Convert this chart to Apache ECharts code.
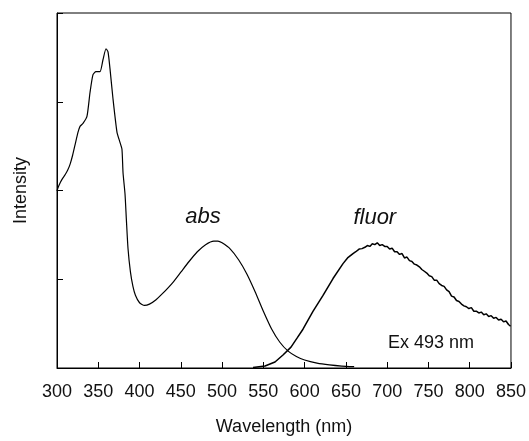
<!DOCTYPE html>
<html><head><meta charset="utf-8">
<script src="https://cdn.jsdelivr.net/npm/echarts@6/dist/echarts.min.js"></script>
<style>html,body{margin:0;padding:0;background:#fff}#c{width:529px;height:441px}</style>
</head><body><div id="c"></div>
<script>
var xTicks = [300,350,400,450,500,550,600,650,700,750,800,850];
var absWl = [300,301.2,304,307,310,313,316,319,322,325.4,327.9,331.5,336.3,340,343.6,347.2,352.1,355.7,359.4,361.8,364.2,367.8,372.7,376.3,378.7,380,382.4,384,386,389,392,395,400,406,412,420,428,440,450,460,470,480,490,495,500,510,520,530,540,550,560,570,580,590,600,615,630,645,660];
var absVal = [1.994,2.03,2.09,2.14,2.18,2.23,2.30,2.40,2.52,2.655,2.723,2.756,2.835,3.104,3.305,3.339,3.339,3.473,3.597,3.563,3.373,3.036,2.655,2.543,2.465,2.2,1.96,1.68,1.35,1.08,0.92,0.82,0.735,0.705,0.72,0.77,0.84,0.96,1.08,1.20,1.31,1.39,1.43,1.43,1.41,1.34,1.22,1.06,0.86,0.64,0.44,0.29,0.19,0.13,0.09,0.055,0.035,0.022,0.015];
var fluWl = [537.5,552,564.1,573.8,583.5,590.8,598,610.1,622.3,634.4,646.5,652,658.6,662,666,669.5,673,676,679,682,685,688,691,694,697,700,703,706,709,712,715,718,721,724,727,730,733,736,739,742,745,748,751,754,757,760,763,766,769,772,775,778,781,784,787,790,793,796,799,802,805,808,811,814,817,820,823,826,829,832,835,838,841,844,847,849.5];
var fluVal = [0.006,0.022,0.067,0.146,0.235,0.336,0.437,0.639,0.818,1.008,1.176,1.24,1.289,1.31,1.34,1.345,1.36,1.38,1.37,1.40,1.39,1.41,1.38,1.39,1.37,1.37,1.34,1.35,1.31,1.31,1.28,1.29,1.24,1.25,1.21,1.20,1.17,1.16,1.14,1.11,1.09,1.07,1.04,1.03,0.99,0.99,0.95,0.93,0.92,0.88,0.86,0.81,0.80,0.76,0.75,0.72,0.70,0.69,0.67,0.68,0.64,0.64,0.62,0.63,0.60,0.61,0.58,0.59,0.56,0.57,0.54,0.55,0.52,0.53,0.49,0.47];
var labels = [{t:'abs', x:477, y:1.70, italic:true, size:22},{t:'fluor', x:685, y:1.69, italic:true, size:22},{t:'Ex 493 nm', x:753, y:0.28, italic:false, size:18}];

function pairs(a,b){return a.map(function(v,i){return [v,b[i]];});}
var chart = echarts.init(document.getElementById('c'));
var font = '"Liberation Sans", Arial, sans-serif';
chart.setOption({
  animation:false,
  grid:{left:57,top:13,right:18,bottom:71,show:true,borderColor:'#000',borderWidth:1},
  xAxis:{type:'value',min:300,max:850,interval:50,
    axisLine:{lineStyle:{color:'#000',width:1}},
    axisTick:{inside:true,length:6,lineStyle:{color:'#000'}},
    axisLabel:{fontSize:18,color:'#111',fontFamily:font,margin:15,customValues:xTicks},
    splitLine:{show:false},
    name:'Wavelength (nm)',nameLocation:'middle',nameGap:50,
    nameTextStyle:{fontSize:18,color:'#111',fontFamily:font}},
  yAxis:{type:'value',min:0,max:4,interval:1,
    axisLine:{show:true,lineStyle:{color:'#000',width:1}},
    axisTick:{show:true,inside:true,length:6,lineStyle:{color:'#000'}},
    axisLabel:{show:false},splitLine:{show:false},
    name:'Intensity',nameLocation:'middle',nameGap:27,
    nameTextStyle:{fontSize:18,color:'#111',fontFamily:font}},
  series:[
    {type:'line',data:pairs(absWl,absVal),showSymbol:false,smooth:0.2,lineStyle:{color:'#000',width:1.2}},
    {type:'line',data:pairs(fluWl,fluVal),showSymbol:false,smooth:false,lineStyle:{color:'#000',width:1.5}}
  ]
});
var g = labels.map(function(l){
  var p = chart.convertToPixel({gridIndex:0},[l.x,l.y]);
  return {type:'text',x:p[0],y:p[1],style:{text:l.t,fill:'#111',font:(l.italic?'italic ':'')+l.size+'px '+font,align:'center',verticalAlign:'middle'}};
});
chart.setOption({graphic:g});
</script></body></html>
